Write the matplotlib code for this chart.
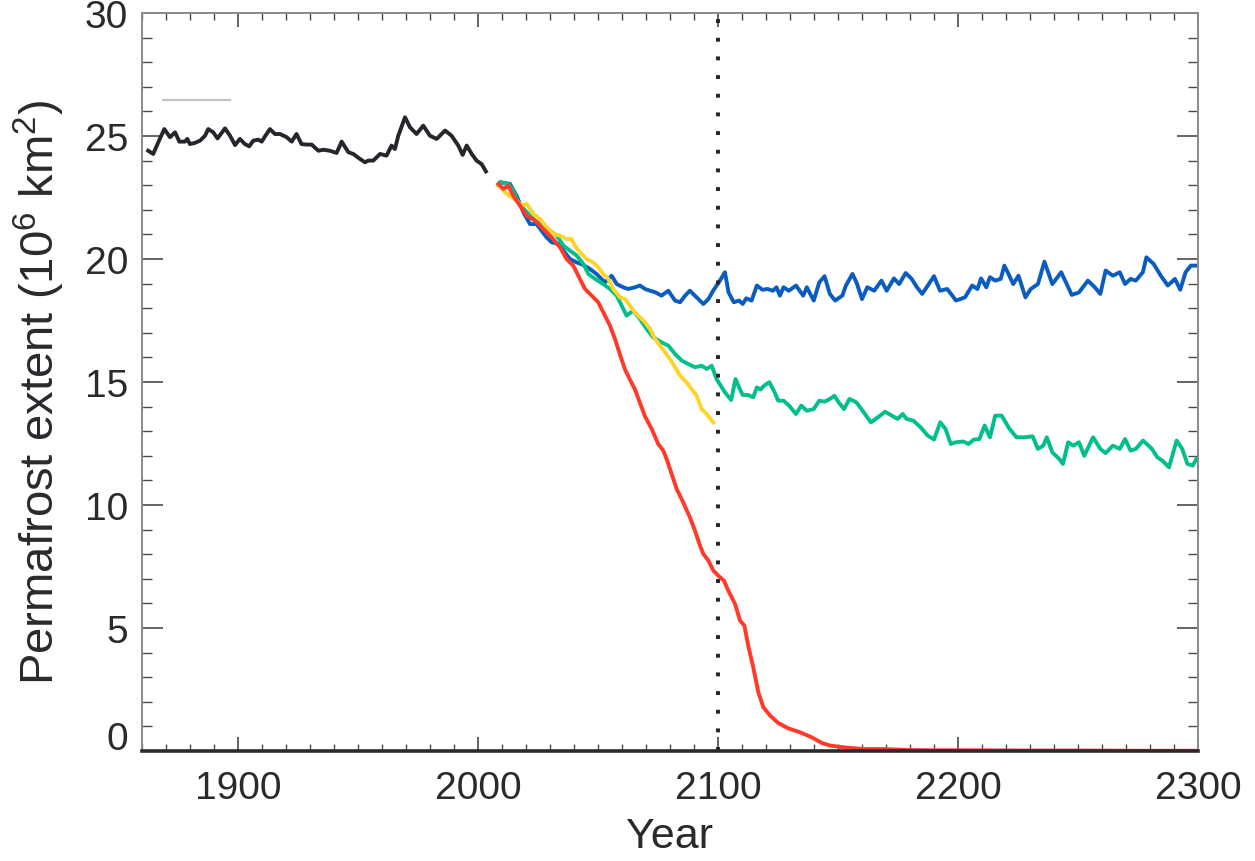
import matplotlib
matplotlib.use('Agg')
import matplotlib.pyplot as plt
from matplotlib.ticker import MultipleLocator, FuncFormatter

plt.rcParams['font.family'] = ['Liberation Sans', 'DejaVu Sans']
plt.rcParams['mathtext.fontset'] = 'custom'
plt.rcParams['mathtext.rm'] = 'Liberation Sans'
plt.rcParams['mathtext.it'] = 'Liberation Sans:italic'

# historical run (black)
hist_year = [1862.6, 1864.7, 1866.8, 1869.3, 1871.7, 1873.8, 1875.6, 1877.9, 1878.9, 1880.0,
             1882.1, 1884.2, 1886.3, 1887.6, 1889.7, 1891.5, 1894.6, 1896.7, 1898.8, 1900.8,
             1902.9, 1904.7, 1906.4, 1908.5, 1909.9, 1911.3, 1913.3, 1915.4, 1917.5, 1920.3,
             1922.4, 1924.4, 1926.5, 1928.6, 1930.7, 1933.5, 1935.6, 1938.3, 1941.1, 1943.2,
             1946.0, 1948.0, 1950.8, 1952.9, 1954.3, 1956.4, 1959.2, 1961.9, 1964.0, 1965.4,
             1966.8, 1969.6, 1971.7, 1974.4, 1977.2, 1980.0, 1982.8, 1986.3, 1989.0, 1991.8,
             1993.6, 1995.3, 1997.4, 1999.4, 2001.5, 2003.3]
hist_val = [24.40, 24.27, 24.74, 25.28, 24.95, 25.15, 24.77, 24.77, 24.88, 24.67,
            24.72, 24.81, 25.01, 25.28, 25.15, 24.90, 25.31, 25.01, 24.63, 24.88,
            24.67, 24.58, 24.81, 24.85, 24.77, 24.99, 25.28, 25.08, 25.08, 24.95,
            24.77, 25.08, 24.67, 24.65, 24.65, 24.40, 24.44, 24.40, 24.31, 24.77,
            24.34, 24.27, 24.07, 23.93, 24.00, 24.00, 24.27, 24.20, 24.61, 24.47,
            25.01, 25.76, 25.35, 25.08, 25.42, 25.01, 24.88, 25.22, 25.01, 24.61,
            24.23, 24.61, 24.27, 24.00, 23.86, 23.56]

# blue scenario
blue_year = [2008.5, 2009.2, 2013.3, 2016.1, 2018.9, 2021.7, 2024.4, 2026.5, 2028.6, 2030.7,
             2033.5, 2035.6, 2038.3, 2041.1, 2043.9, 2046.7, 2049.4, 2052.9, 2055.7, 2057.8,
             2060.5, 2062.6, 2065.4, 2067.5, 2069.6, 2071.7, 2073.8, 2076.5, 2079.3, 2082.1,
             2084.2, 2086.3, 2088.3, 2091.1, 2093.9, 2096.0, 2098.0, 2100.8, 2102.9,
             2104.4, 2106.6, 2108.8, 2110.3, 2111.8, 2114.0, 2116.2, 2118.5, 2120.7, 2122.9,
             2124.4, 2125.8, 2127.3, 2129.5, 2132.5, 2135.5, 2137.0, 2139.9, 2142.2, 2144.4,
             2146.6, 2148.8, 2151.8, 2153.3, 2156.0, 2157.7, 2160.0, 2162.2, 2165.1, 2168.1,
             2170.3, 2173.3, 2175.5, 2178.2, 2180.7, 2182.9, 2185.1, 2187.4, 2190.0, 2192.5,
             2195.5, 2199.2, 2202.9, 2205.9, 2208.1, 2209.6, 2211.8, 2213.3, 2215.5, 2217.8,
             2219.3, 2220.7, 2223.0, 2225.2, 2228.1, 2230.3, 2233.3, 2236.0, 2239.3, 2243.0,
             2247.4, 2250.4, 2254.1, 2257.0, 2259.3, 2261.5, 2264.5, 2267.4, 2269.6, 2271.9,
             2274.1, 2277.0, 2278.5, 2281.5, 2284.5, 2287.4, 2290.4, 2292.6, 2294.8, 2297.0,
             2299.0]
blue_val = [23.00, 23.12, 23.05, 22.57, 21.90, 21.42, 21.42, 21.15, 20.88, 20.68,
            20.61, 20.34, 20.00, 19.86, 19.76, 19.59, 19.39, 19.05, 19.32, 18.98,
            18.85, 18.78, 18.85, 18.92, 18.78, 18.71, 18.65, 18.51, 18.71, 18.31,
            18.24, 18.51, 18.71, 18.44, 18.17, 18.37, 18.71, 19.12, 19.46,
            18.64, 18.24, 18.31, 18.17, 18.40, 18.31, 18.92, 18.75, 18.78, 18.71,
            18.85, 18.51, 18.85, 18.71, 18.92, 18.51, 18.85, 18.31, 19.05, 19.30,
            18.58, 18.31, 18.51, 18.92, 19.39, 19.05, 18.37, 18.85, 18.71, 19.12,
            18.71, 19.21, 18.98, 19.43, 19.19, 18.85, 18.58, 18.92, 19.30, 18.71,
            18.78, 18.31, 18.44, 18.92, 18.78, 19.21, 18.85, 19.26, 19.12, 19.19,
            19.73, 19.46, 18.98, 19.32, 18.44, 18.78, 18.98, 19.89, 18.98, 19.46,
            18.54, 18.64, 19.12, 18.85, 18.58, 19.53, 19.32, 19.46, 18.98, 19.19,
            19.12, 19.46, 20.07, 19.80, 19.32, 18.92, 19.19, 18.75, 19.46, 19.73,
            19.73]

# green scenario
green_year = [2008.5, 2009.2, 2012.6, 2014.7, 2016.8, 2020.3, 2023.8, 2027.2, 2030.0, 2032.8,
              2035.6, 2038.3, 2041.1, 2043.9, 2046.0, 2048.8, 2052.2, 2055.0, 2057.8, 2059.9,
              2061.9, 2064.7, 2067.5, 2070.3, 2073.0, 2076.5, 2079.3, 2082.1, 2084.9, 2087.6,
              2090.4, 2093.2, 2095.3, 2097.4, 2099.4,
              2102.9, 2105.5, 2107.3, 2108.8, 2110.3, 2112.5, 2114.7, 2116.2, 2117.7, 2119.2,
              2121.4, 2123.6, 2125.1, 2127.3, 2129.6, 2132.5, 2134.7, 2137.0, 2139.9, 2142.2,
              2144.4, 2146.6, 2148.5, 2150.3, 2152.5, 2154.8, 2157.7, 2160.7, 2163.7, 2166.6,
              2169.6, 2172.5, 2174.8, 2177.0, 2178.5, 2181.4, 2184.4, 2187.4, 2190.0, 2192.6,
              2194.8, 2197.0, 2199.2, 2202.2, 2204.4, 2206.6, 2208.9, 2211.1, 2213.3, 2215.5,
              2218.2, 2221.5, 2224.4, 2227.4, 2231.1, 2233.3, 2235.5, 2237.0, 2239.3, 2242.2,
              2243.7, 2245.9, 2248.1, 2250.4, 2252.6, 2256.3, 2259.3, 2261.5, 2264.5, 2267.4,
              2269.6, 2271.9, 2274.1, 2277.1, 2280.8, 2283.0, 2285.2, 2287.9, 2291.1, 2293.4,
              2295.6, 2297.8, 2299.3]
green_val = [23.00, 23.12, 23.05, 22.78, 22.30, 21.90, 21.56, 21.36, 21.15, 20.95,
             20.54, 20.34, 20.14, 19.80, 19.39, 19.19, 18.98, 18.78, 18.51, 18.10,
             17.70, 17.90, 17.56, 17.15, 16.82, 16.61, 16.48, 16.14, 15.87, 15.73,
             15.60, 15.66, 15.53, 15.66, 15.12,
             14.58, 14.27, 15.12, 14.78, 14.47, 14.47, 14.38, 14.78, 14.69, 14.85,
             14.99, 14.58, 14.24, 14.24, 14.04, 13.70, 14.04, 13.83, 13.90, 14.24,
             14.20, 14.31, 14.44, 14.17, 13.90, 14.31, 14.17, 13.77, 13.36, 13.56,
             13.79, 13.63, 13.50, 13.70, 13.50, 13.43, 13.16, 12.82, 12.66, 13.36,
             13.09, 12.48, 12.55, 12.58, 12.48, 12.66, 12.68, 13.23, 12.75, 13.63,
             13.63, 13.09, 12.75, 12.75, 12.79, 12.28, 12.41, 12.75, 12.14, 11.87,
             11.67, 12.55, 12.41, 12.55, 12.00, 12.75, 12.28, 12.11, 12.41, 12.28,
             12.68, 12.21, 12.28, 12.62, 12.28, 11.94, 11.80, 11.53, 12.62, 12.28,
             11.67, 11.60, 11.87]

# yellow scenario (ends 2100)
yellow_year = [2008.5, 2011.3, 2014.0, 2016.1, 2018.2, 2020.3, 2023.0, 2025.8, 2028.6, 2031.4,
               2034.2, 2036.9, 2039.0, 2040.4, 2042.5, 2045.3, 2048.0, 2050.1, 2052.2, 2054.3,
               2056.4, 2059.2, 2061.3, 2063.3, 2065.4, 2067.5, 2069.6, 2071.7, 2073.8, 2075.8,
               2077.9, 2080.0, 2082.1, 2084.2, 2086.9, 2089.0, 2091.1, 2093.2, 2095.3, 2098.0]
yellow_val = [23.00, 22.71, 22.51, 22.37, 22.17, 22.24, 21.83, 21.63, 21.29, 21.02,
              20.95, 20.81, 20.81, 20.54, 20.27, 20.00, 19.86, 19.66, 19.39, 19.19,
              18.78, 18.44, 18.37, 18.10, 17.83, 17.63, 17.43, 17.15, 16.75, 16.48,
              16.21, 15.93, 15.60, 15.26, 14.99, 14.72, 14.44, 13.90, 13.70, 13.36]

# red scenario
red_year = [2008.5, 2010.6, 2012.6, 2014.7, 2017.5, 2020.3, 2023.8, 2027.2, 2030.7, 2034.2,
            2036.9, 2038.3, 2039.7, 2041.8, 2044.6, 2047.4, 2050.1, 2052.9, 2055.0, 2057.1,
            2059.2, 2061.3, 2063.3, 2065.4, 2067.5,
            2069.6, 2072.4, 2075.1, 2077.2, 2078.6, 2080.7, 2082.8, 2085.5, 2088.3, 2090.4,
            2092.5, 2093.9, 2096.0, 2098.1, 2100.1, 2102.5, 2104.3, 2107.1, 2109.2, 2111.0,
            2112.6, 2114.7, 2116.8, 2118.9, 2121.7, 2125.1, 2129.3, 2134.2, 2139.0, 2143.2,
            2146.7, 2152.2, 2160.6, 2168.9, 2180.0, 2188.3, 2200.0, 2225.0, 2250.0, 2275.0,
            2300.0]
red_val = [23.05, 22.85, 22.98, 22.57, 22.17, 21.76, 21.56, 21.22, 20.88, 20.47,
           20.00, 19.86, 19.73, 19.32, 18.78, 18.51, 18.24, 17.70, 17.29, 16.75,
           16.10, 15.50, 15.10, 14.70, 14.15,
           13.60, 13.09, 12.48, 12.21, 11.87, 11.26, 10.65, 10.11, 9.50, 8.96,
           8.35, 8.01, 7.74, 7.33, 7.13, 6.92, 6.52, 5.98, 5.30, 5.10,
           4.28, 3.40, 2.39, 1.78, 1.44, 1.14, 0.92, 0.76, 0.56, 0.33,
           0.22, 0.15, 0.08, 0.08, 0.04, 0.03, 0.03, 0.02, 0.02, 0.01,
           0.01]

# short grey line in upper left (legend remnant)
grey_year = [1868.6, 1896.7]
grey_val = [26.48, 26.48]

fig = plt.figure(figsize=(12.55, 8.62), dpi=100)
ax = fig.add_axes([0.1131, 0.1276, 0.8415, 0.8562])

ax.plot(grey_year, grey_val, color='#c4c4c4', lw=1.6)
ax.plot(hist_year, hist_val, color='#25262b', lw=2.8)
ax.plot(blue_year, blue_val, color='#0a5cbf', lw=2.8)
ax.plot(green_year, green_val, color='#00bf8c', lw=2.8)
ax.plot(yellow_year, yellow_val, color='#ffd42a', lw=2.8)
ax.plot(red_year, red_val, color='#ff3a2a', lw=2.8)
ax.axvline(2100, color='#222222', lw=2.8, linestyle=(0, (1, 3.8)))

ax.set_xlim(1860, 2300)
ax.set_ylim(0, 30)
ax.xaxis.set_major_locator(MultipleLocator(100))
ax.xaxis.set_minor_locator(MultipleLocator(10))
ax.yaxis.set_major_locator(MultipleLocator(5))
ax.yaxis.set_minor_locator(MultipleLocator(1))
# "0" is drawn separately, a little above the axis like in the original
ax.yaxis.set_major_formatter(FuncFormatter(lambda v, p: '' if v == 0 else '%d' % v))

for s in ['left', 'right', 'top']:
    ax.spines[s].set_color('#8a8a8a')
    ax.spines[s].set_linewidth(1.4)
ax.spines['bottom'].set_color('#2a2a2e')
ax.spines['bottom'].set_linewidth(2.6)

ax.tick_params(which='both', direction='in', top=True, right=True,
               colors='#4a4a4a', labelcolor='#2a2a2e')
ax.tick_params(axis='x', which='major', length=10, width=1.2, pad=14, labelsize=28)
ax.tick_params(axis='x', which='minor', length=5, width=1.0)
ax.tick_params(axis='y', which='major', length=15, width=1.2, pad=10, labelsize=28)
ax.tick_params(axis='y', which='minor', length=7, width=1.0)

ax.annotate('0', xy=(0, 0), xycoords=('axes fraction', 'data'),
            xytext=(-10, 9), textcoords='offset points',
            ha='right', va='center', fontsize=28, color='#2a2a2e')

ax.set_xlabel('Year', fontsize=31, color='#2a2a2e', labelpad=7)
ax.set_ylabel('Permafrost extent (10$^{6}$ km$^{2}$)', fontsize=34,
              color='#2a2a2e', va='center')
ax.yaxis.set_label_coords(-0.097, 0.488)

fig.savefig('out.png', dpi=100)
